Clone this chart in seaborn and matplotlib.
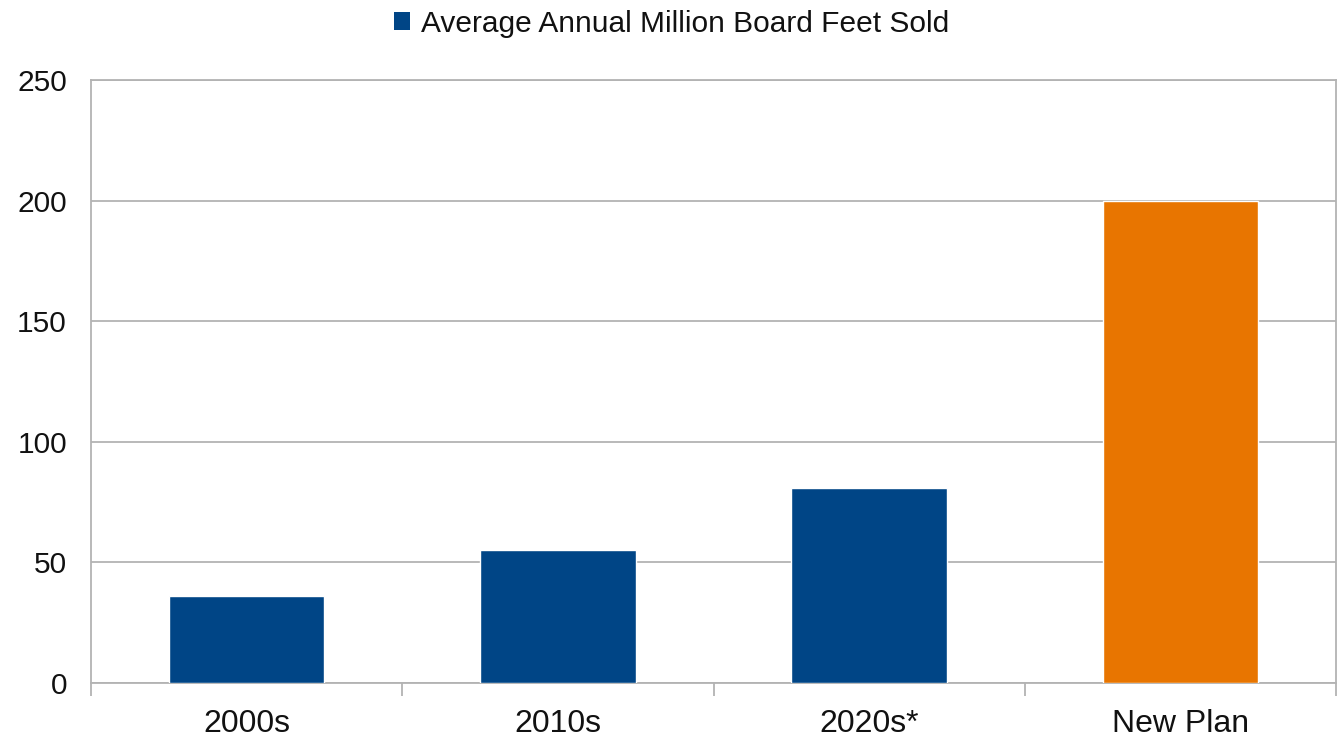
import pandas as pd
import matplotlib.pyplot as plt
import seaborn as sns
from matplotlib.patches import Patch

categories = ["2000s", "2010s", "2020s*", "New Plan"]
values = [36, 55, 81, 200]
bar_colors = ["#004586", "#004586", "#004586", "#e87500"]
series_name = "Average Annual Million Board Feet Sold"

df = pd.DataFrame({"period": categories, "mbf": values})

sns.set_style("white")
plt.rcParams["font.family"] = ["Liberation Sans", "DejaVu Sans"]
plt.rcParams["text.color"] = "#111111"
plt.rcParams["xtick.labelcolor"] = "#111111"
plt.rcParams["ytick.labelcolor"] = "#111111"

fig = plt.figure(figsize=(13.43, 7.38), dpi=100)
ax = fig.add_axes([0.0678, 0.0745, 0.927, 0.8171])

sns.barplot(data=df, x="period", y="mbf", hue="period", palette=bar_colors,
            width=0.5, dodge=False, legend=False, saturation=1, ax=ax, zorder=3)

ax.set_xlim(-0.5, len(categories) - 0.5)
ax.set_ylim(0, 250)
ax.set_yticks(range(0, 251, 50))
ax.yaxis.grid(True, color="#b3b3b3", linewidth=1.3, zorder=0)
ax.set_axisbelow(True)
ax.set_xlabel("")
ax.set_ylabel("")

for s in ax.spines.values():
    s.set_color("#b3b3b3")
    s.set_linewidth(1.3)

# tick marks at category boundaries
ax.set_xticks([i - 0.5 for i in range(len(categories) + 1)], minor=True)
ax.tick_params(axis="x", which="minor", length=9, width=1.3, color="#b3b3b3", direction="out")
ax.tick_params(axis="x", which="major", length=0, pad=19, labelsize=23)
ax.tick_params(axis="y", length=9.4, width=1.3, color="#b3b3b3", direction="out", pad=8, labelsize=21.5)
ax.tick_params(axis="x", bottom=True, which="both")

handle = Patch(facecolor="#004586", edgecolor="none", label=series_name)
fig.legend(handles=[handle], loc="center", bbox_to_anchor=(0.5, 0.968), frameon=False,
           fontsize=21.5, handlelength=0.55, handleheight=0.55, handletextpad=0.35)

fig.savefig("out.png", dpi=100)
